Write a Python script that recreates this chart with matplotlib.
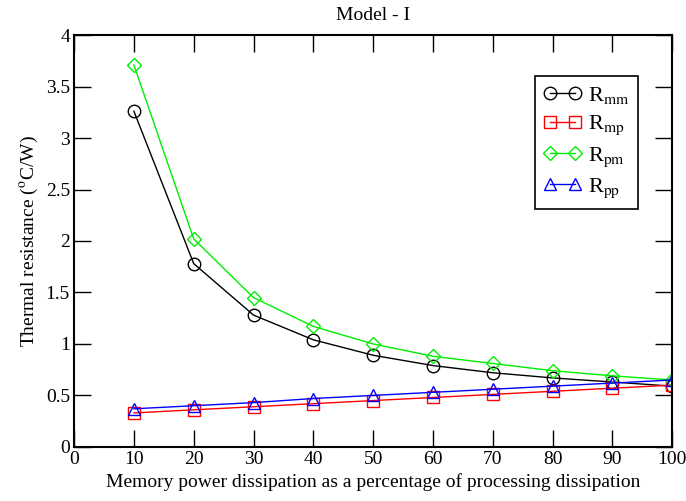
import matplotlib
matplotlib.use('Agg')
import matplotlib.pyplot as plt

plt.rcParams['font.family'] = ['Liberation Serif', 'DejaVu Serif']
plt.rcParams['mathtext.fontset'] = 'stix'

# memory power as % of processing power
pct = [10, 20, 30, 40, 50, 60, 70, 80, 90, 100]
r_mm = [3.26, 1.78, 1.28, 1.04, 0.89, 0.79, 0.72, 0.67, 0.63, 0.59]
r_mp = [0.33, 0.36, 0.39, 0.42, 0.45, 0.48, 0.51, 0.54, 0.57, 0.60]
r_pm = [3.71, 2.02, 1.45, 1.17, 1.00, 0.88, 0.81, 0.74, 0.69, 0.65]
r_pp = [0.37, 0.40, 0.43, 0.47, 0.50, 0.53, 0.56, 0.59, 0.62, 0.65]

xticks = [0, 10, 20, 30, 40, 50, 60, 70, 80, 90, 100]
yticks = [0, 0.5, 1, 1.5, 2, 2.5, 3, 3.5, 4]
ylabels = ['0', '0.5', '1', '1.5', '2', '2.5', '3', '3.5', '4']

fig = plt.figure(figsize=(6.86, 5.01), dpi=100)
ax = fig.add_axes([0.108, 0.108, 0.872, 0.822])

mk = dict(markersize=9, markerfacecolor='none', linewidth=1, markeredgewidth=1)
ax.plot(pct, r_mm, color='black', marker='o', label=r'R$_{\mathrm{mm}}$', **mk)
ax.plot(pct, r_mp, color='red', marker='s', label=r'R$_{\mathrm{mp}}$', **mk)
ax.plot(pct, r_pm, color='#00ee00', marker='D', label=r'R$_{\mathrm{pm}}$',
        markersize=7, markerfacecolor='none', linewidth=1, markeredgewidth=1)
ax.plot(pct, r_pp, color='blue', marker='^', label=r'R$_{\mathrm{pp}}$', **mk)

ax.set_xlim(0, 100)
ax.set_ylim(0, 4)
ax.set_xticks(xticks)
ax.set_yticks(yticks)
ax.set_yticklabels(ylabels)
ax.tick_params(direction='in', length=12, width=1, top=True, right=True,
               labelsize=14, pad=3)
for s in ax.spines.values():
    s.set_linewidth(1.5)

ax.set_xlabel('Memory power dissipation as a percentage of processing dissipation',
              fontsize=14, labelpad=4)
ax.set_ylabel(r'Thermal resistance ($^{\mathrm{o}}$C/W)', fontsize=14, labelpad=4)
ax.set_title('Model - I', fontsize=14, pad=11)

leg = ax.legend(loc='upper left', bbox_to_anchor=(0.77, 0.9), fontsize=16,
                fancybox=False, edgecolor='black', framealpha=1, numpoints=2,
                handlelength=1.7, handletextpad=0.3, borderpad=0.4,
                labelspacing=0.35, borderaxespad=0)
leg.get_frame().set_linewidth(1.2)

fig.savefig('out.png', dpi=100)
